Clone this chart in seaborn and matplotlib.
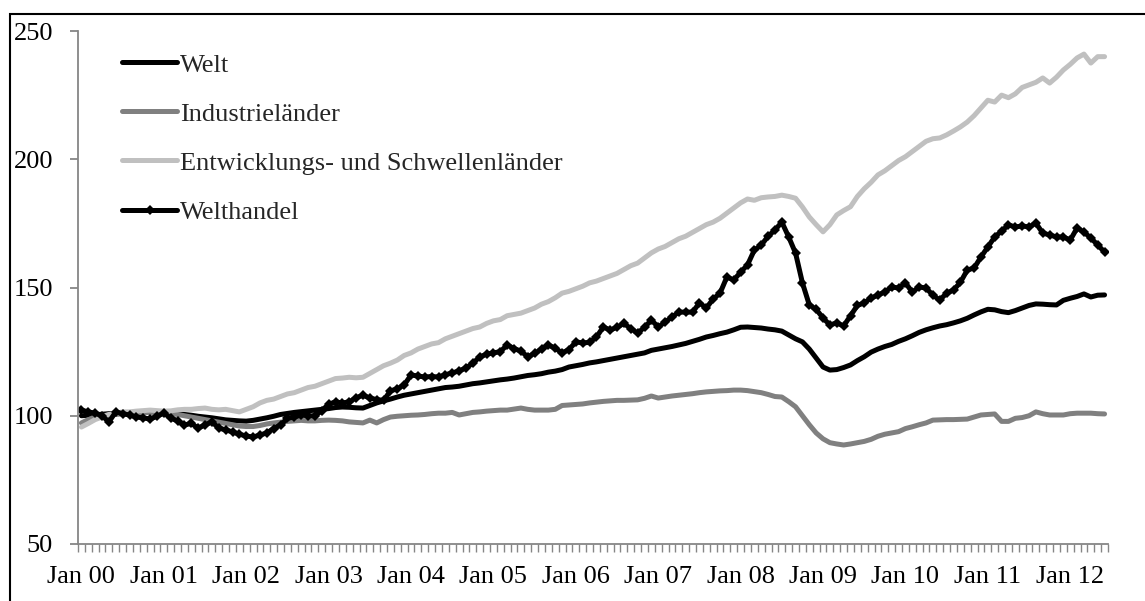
import seaborn as sns
import matplotlib.pyplot as plt
import pandas as pd

# monthly index values, Jan 2000 - Jun 2012
welt = [
    100, 100.2, 100.4, 100.6, 100.8, 101, 101, 101.2, 101.3, 101.5, 101.5, 101.5,
    101, 101, 100.8, 100.5, 100.2, 99.8, 99.5, 99.2, 98.8, 98.4, 98.2, 98,
    97.9, 98.2, 98.7, 99.2, 99.8, 100.5, 100.9, 101.3, 101.6, 101.9, 102.2, 102.5,
    102.8, 103.2, 103.4, 103.3, 103.1, 103, 104, 105, 105.8, 106.5, 107.3, 108,
    108.5, 109, 109.5, 110, 110.5, 111, 111.2, 111.5, 112, 112.5, 112.8, 113.2,
    113.6, 114, 114.3, 114.7, 115.2, 115.7, 116, 116.4, 117, 117.4, 118, 119,
    119.5, 120, 120.6, 121, 121.5, 122, 122.5, 123, 123.5, 124, 124.5, 125.5,
    126, 126.5, 127, 127.6, 128.2, 129, 129.8, 130.7, 131.3, 132, 132.6, 133.5,
    134.5, 134.6, 134.4, 134.2, 133.8, 133.5, 133, 131.5, 130, 128.8, 126, 122.5,
    119, 117.8, 118, 118.8, 119.8, 121.5, 123, 124.8, 126, 127, 127.8, 129,
    130, 131.2, 132.5, 133.5, 134.3, 135, 135.5, 136.2, 137, 138, 139.3, 140.5,
    141.5, 141.3, 140.6, 140.2, 141, 142, 143, 143.6, 143.5, 143.3, 143.2, 145,
    145.8, 146.5, 147.5, 146.3, 147, 147.1,
]
industrie = [
    97.2, 98.5, 99.5, 100, 100.3, 100.5, 100.7, 101, 101, 101.2, 101.3, 101.5,
    101, 100.8, 100.5, 100, 99.5, 99, 98.5, 98, 97.5, 97, 96.5, 96,
    95.8, 95.8, 96.2, 96.8, 97.2, 97.5, 97.8, 98, 98.2, 98, 98, 98.2,
    98.3, 98.2, 98, 97.6, 97.4, 97.2, 98.3, 97.2, 98.5, 99.5, 99.8, 100,
    100.2, 100.3, 100.5, 100.8, 101, 101, 101.3, 100.3, 100.8, 101.3, 101.5, 101.8,
    102, 102.2, 102.2, 102.6, 103, 102.5, 102.2, 102.2, 102.2, 102.5, 104, 104.2,
    104.4, 104.6, 105, 105.3, 105.6, 105.8, 106, 106, 106.1, 106.2, 106.8, 107.7,
    106.9, 107.3, 107.7, 108, 108.3, 108.6, 109, 109.3, 109.5, 109.7, 109.8, 110,
    110, 109.8, 109.4, 109, 108.3, 107.5, 107.3, 105.5, 103.5, 100, 96.5, 93.3,
    91, 89.5, 89, 88.6, 89, 89.5, 90, 90.8, 92, 92.8, 93.3, 93.8,
    95, 95.7, 96.5, 97.2, 98.3, 98.4, 98.5, 98.5, 98.6, 98.7, 99.5, 100.3,
    100.5, 100.7, 97.8, 97.8, 99, 99.3, 100, 101.5, 100.8, 100.3, 100.3, 100.3,
    100.8, 101, 101, 101, 100.8, 100.7,
]
entwicklung = [
    95.6, 97, 98.5, 99.5, 100.5, 101, 101.5, 101.5, 101.8, 102, 102.2, 102,
    101.8, 101.9, 102.3, 102.5, 102.5, 102.8, 103, 102.5, 102.3, 102.5, 102, 101.5,
    102.5, 103.5, 105, 106, 106.5, 107.5, 108.5, 109, 110, 111, 111.5, 112.5,
    113.5, 114.5, 114.7, 115, 114.8, 115, 116.5, 118, 119.5, 120.5, 121.7, 123.5,
    124.5, 126, 127, 128, 128.5, 130, 131, 132, 133, 134, 134.6, 136,
    137, 137.5, 139, 139.5, 140, 141, 142, 143.5, 144.5, 146, 147.8, 148.5,
    149.5, 150.5, 151.8, 152.5, 153.5, 154.5, 155.5, 157, 158.5, 159.5, 161.5, 163.5,
    165, 166, 167.5, 169, 170, 171.5, 173, 174.5, 175.5, 177, 179, 181,
    183, 184.5, 184, 185, 185.3, 185.5, 186, 185.5, 184.8, 181.4, 177.5, 174.5,
    171.7, 174.5, 178.3, 180, 181.5, 185.5, 188.5, 191, 193.9, 195.5, 197.5, 199.5,
    201, 203, 205, 207, 208, 208.3, 209.5, 211, 212.6, 214.5, 217, 220,
    223, 222.3, 225, 224, 225.5, 228, 229, 230, 231.7, 229.7, 232, 234.8,
    237, 239.5, 241, 237.5, 240, 240,
]
welthandel = [
    102.2, 101.5, 101, 100, 97.6, 101.5, 100.8, 100.3, 99.5, 99.2, 98.7, 99.8,
    101, 99.1, 98, 96.4, 97, 95.2, 96.4, 97.6, 95.2, 94.5, 93.7, 92.8,
    92.1, 91.7, 92.5, 93.3, 95, 96.4, 99, 99.5, 100.3, 100, 99.9, 102,
    104.5, 105.4, 105, 105.4, 107, 108, 106.9, 106.3, 106, 109.7, 110.5, 112,
    115.9, 115.5, 115.1, 115.3, 115.1, 116, 116.7, 117.5, 118.6, 120.5, 122.9, 124,
    124.5, 125, 127.6, 126.2, 125.2, 123, 124.3, 126, 127.6, 126.3, 124.5, 125.8,
    128.8, 128.4, 128.6, 130.7, 134.6, 133.4, 134.5, 136, 134, 132.2, 134.5, 137.3,
    134.6, 136.5, 138.5, 140.4, 140.4, 140.4, 144, 142, 145.5, 147.8, 154.1, 152.9,
    156, 158.8, 164.6, 166.5, 170, 172.4, 175.5, 169.7, 163.4, 151.8, 143.2, 141.5,
    138.1, 135.4, 136.2, 135, 139, 143, 144, 145.9, 147, 148.3, 150.2, 149.8,
    151.8, 148.2, 150.2, 149.8, 147, 145.1, 147.8, 149, 152, 156.8, 157.6, 161.9,
    165.8, 169.7, 172, 174.4, 173.6, 174, 173.6, 175.1, 171.2, 170.5, 169.7, 169.7,
    168.5, 173.2, 171.6, 169.3, 166.6, 163.8,
]
tick_labels = ["Jan 00", "Jan 01", "Jan 02", "Jan 03", "Jan 04", "Jan 05", "Jan 06",
               "Jan 07", "Jan 08", "Jan 09", "Jan 10", "Jan 11", "Jan 12"]
series_names = ["Welt", "Industrieländer", "Entwicklungs- und Schwellenländer", "Welthandel"]

months = list(range(len(welt)))
df = pd.DataFrame({"m": months, "Welt": welt, "Industrieländer": industrie,
                   "Entwicklungs- und Schwellenländer": entwicklung,
                   "Welthandel": welthandel})

sns.set_style("white")
plt.rcParams['font.family'] = ['Liberation Serif', 'DejaVu Serif']

fig = plt.figure(figsize=(11.45, 6.01), dpi=100)
ax = fig.add_axes([78 / 1145, 57 / 601, 1030 / 1145, 513 / 601])

colors = ["#000000", "#808080", "#c0c0c0", "#000000"]
for name, c in zip(series_names, colors):
    if name == "Welthandel":
        sns.lineplot(data=df, x="m", y=name, ax=ax, color=c, lw=3.6, label=name,
                     marker="D", markersize=5, markeredgewidth=0)
    else:
        sns.lineplot(data=df, x="m", y=name, ax=ax, color=c, lw=3.6, label=name)

ax.set_xlim(-0.5, len(welt) - 0.5)
ax.set_ylim(50, 250)
ax.set_yticks([50, 100, 150, 200, 250])
ax.set_xticks(range(0, len(welt), 12))
ax.set_xticklabels(tick_labels)
ax.set_xticks([k - 0.5 for k in range(len(welt) + 1)], minor=True)
ax.set_xlabel("")
ax.set_ylabel("")

axis_gray = "#868686"
for s in ["top", "right"]:
    ax.spines[s].set_visible(False)
for s in ["left", "bottom"]:
    ax.spines[s].set_color(axis_gray)
    ax.spines[s].set_linewidth(1.3)
ax.tick_params(axis="y", which="major", direction="out", length=6, width=1.3,
               color=axis_gray, labelsize=19, labelcolor="black", pad=12, left=True)
ax.tick_params(axis="x", which="major", length=0, labelsize=19, labelcolor="black", pad=16)
ax.tick_params(axis="x", which="minor", direction="out", length=6, width=1.0,
               color=axis_gray, bottom=True)

ax.legend(loc="upper left", bbox_to_anchor=(0.0427, 0.957), frameon=False,
          fontsize=19, handlelength=2.1, handletextpad=0.1, labelspacing=0.97,
          borderaxespad=0, borderpad=0)

# outer frame (only top and left edge visible)
fig.add_artist(plt.Rectangle((10 / 1145, -0.1), 1.2, 587 / 601 + 0.1,
                             transform=fig.transFigure, fill=False,
                             edgecolor="black", lw=1.5, clip_on=False))

fig.savefig("out.png", dpi=100)
